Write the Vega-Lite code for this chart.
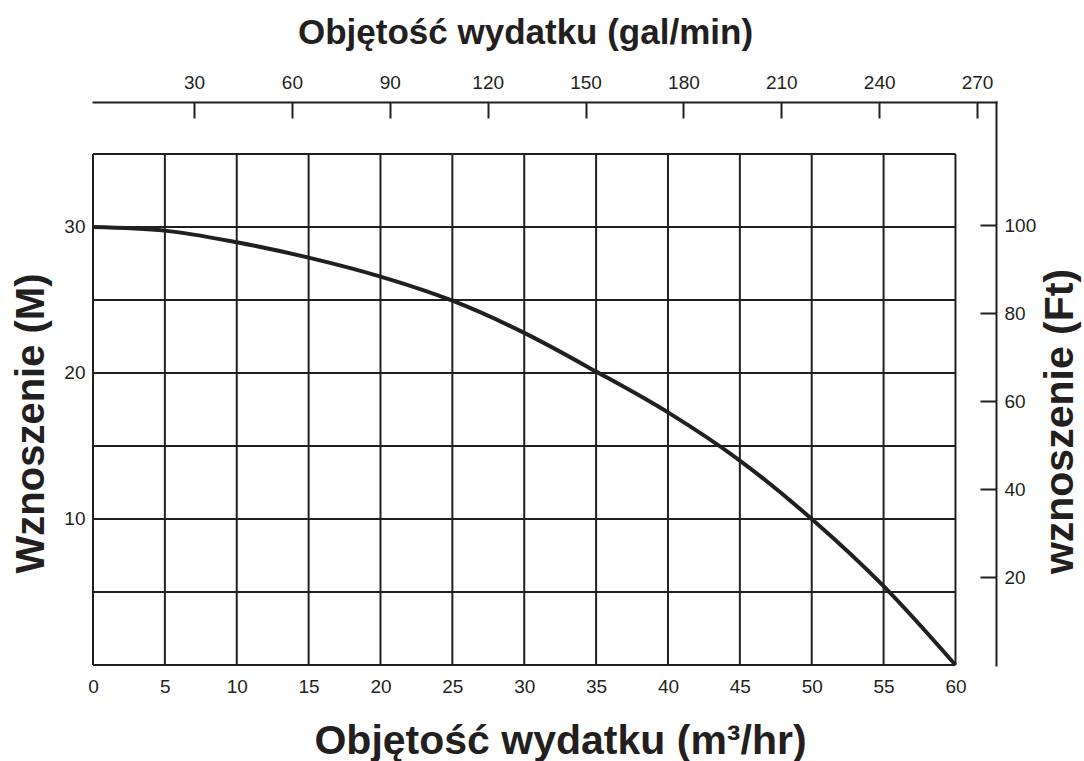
{
  "$schema": "https://vega.github.io/schema/vega-lite/v6.json",
  "width": 903,
  "height": 563,
  "autosize": {"type": "none"},
  "padding": {"left": 93, "top": 102, "right": 88, "bottom": 96},
  "background": "white",
  "config": {
    "view": {"stroke": null},
    "font": "Liberation Sans",
    "axis": {
      "labelFont": "Liberation Sans",
      "titleFont": "Liberation Sans",
      "labelColor": "#231f20",
      "titleColor": "#231f20",
      "grid": false,
      "labelFlush": false,
      "labelOverlap": false,
      "labelFontSize": 19,
      "titleFontWeight": "bold",
      "domainColor": "#231f20",
      "domainWidth": 2,
      "domainCap": "square",
      "tickColor": "#231f20",
      "tickWidth": 2
    }
  },
  "datasets": {
    "curve": [
      {"q": 0, "h": 30},
      {"q": 5, "h": 29.75},
      {"q": 10, "h": 28.95},
      {"q": 15, "h": 27.9},
      {"q": 20, "h": 26.6},
      {"q": 25, "h": 24.95},
      {"q": 30, "h": 22.75},
      {"q": 35, "h": 20.1},
      {"q": 40, "h": 17.3},
      {"q": 45, "h": 14.0},
      {"q": 50, "h": 10.0},
      {"q": 55, "h": 5.4},
      {"q": 60, "h": 0}
    ],
    "vgrid": [
      {"q": 0}, {"q": 5}, {"q": 10}, {"q": 15}, {"q": 20}, {"q": 25}, {"q": 30},
      {"q": 35}, {"q": 40}, {"q": 45}, {"q": 50}, {"q": 55}, {"q": 60}
    ],
    "hgrid": [
      {"h": 0}, {"h": 5}, {"h": 10}, {"h": 15}, {"h": 20}, {"h": 25}, {"h": 30}, {"h": 35}
    ],
    "alt": [{"gal": 0, "ft": 0}]
  },
  "layer": [
    {
      "layer": [
        {
          "data": {"name": "vgrid"},
          "mark": {"type": "rule", "stroke": "#231f20", "strokeWidth": 2},
          "encoding": {
            "x": {
              "field": "q",
              "type": "quantitative",
              "scale": {"domain": [0, 62.82], "nice": false, "zero": false},
              "axis": {
                "orient": "bottom",
                "values": [0, 5, 10, 15, 20, 25, 30, 35, 40, 45, 50, 55, 60],
                "domain": false,
                "ticks": false,
                "tickSize": 0,
                "labelPadding": 12,
                "labelFontSize": 19,
                "title": "Objętość wydatku (m³/hr)",
                "titleFontSize": 41,
                "titleX": 467,
                "titleY": 88,
                "titleAlign": "center",
                "titleBaseline": "alphabetic"
              }
            },
            "y": {
              "datum": 0,
              "type": "quantitative",
              "scale": {"domain": [0, 38.56], "nice": false, "zero": false},
              "axis": {
                "orient": "left",
                "values": [10, 20, 30],
                "domain": false,
                "ticks": false,
                "tickSize": 0,
                "labelPadding": 8,
                "labelFontSize": 19,
                "title": "Wznoszenie (M)",
                "titleFontSize": 40,
                "titleAngle": 270,
                "titleX": -62,
                "titleY": 321,
                "titleAlign": "center",
                "titleBaseline": "middle"
              }
            },
            "y2": {"datum": 35}
          }
        },
        {
          "data": {"name": "hgrid"},
          "mark": {"type": "rule", "stroke": "#231f20", "strokeWidth": 2},
          "encoding": {
            "y": {"field": "h", "type": "quantitative"},
            "x": {"datum": 0, "type": "quantitative"},
            "x2": {"datum": 60}
          }
        },
        {
          "data": {"name": "curve"},
          "mark": {"type": "line", "stroke": "#231f20", "strokeWidth": 4, "interpolate": "monotone"},
          "encoding": {
            "x": {"field": "q", "type": "quantitative"},
            "y": {"field": "h", "type": "quantitative"}
          }
        }
      ]
    },
    {
      "data": {"name": "alt"},
      "mark": {"type": "point", "opacity": 0},
      "encoding": {
        "x": {
          "field": "gal",
          "type": "quantitative",
          "scale": {"domain": [-0.96, 275.8], "nice": false, "zero": false},
          "axis": {
            "orient": "top",
            "values": [30, 60, 90, 120, 150, 180, 210, 240, 270],
            "domain": true,
            "ticks": true,
            "tickSize": -16,
            "labelPadding": 26,
            "labelFontSize": 19,
            "title": "Objętość wydatku (gal/min)",
            "titleFontSize": 35,
            "titleX": 432,
            "titleY": -59,
            "titleAlign": "center",
            "titleBaseline": "alphabetic"
          }
        },
        "y": {
          "field": "ft",
          "type": "quantitative",
          "scale": {"domain": [0, 128], "nice": false, "zero": false},
          "axis": {
            "orient": "right",
            "values": [20, 40, 60, 80, 100],
            "domain": true,
            "ticks": true,
            "tickSize": -16,
            "labelPadding": 24,
            "labelFontSize": 19,
            "title": "wznoszenie (Ft)",
            "titleFontSize": 41,
            "titleAngle": 270,
            "titleX": 64,
            "titleY": 319,
            "titleAlign": "center",
            "titleBaseline": "middle"
          }
        }
      }
    }
  ],
  "resolve": {
    "scale": {"x": "independent", "y": "independent"},
    "axis": {"x": "independent", "y": "independent"}
  }
}
